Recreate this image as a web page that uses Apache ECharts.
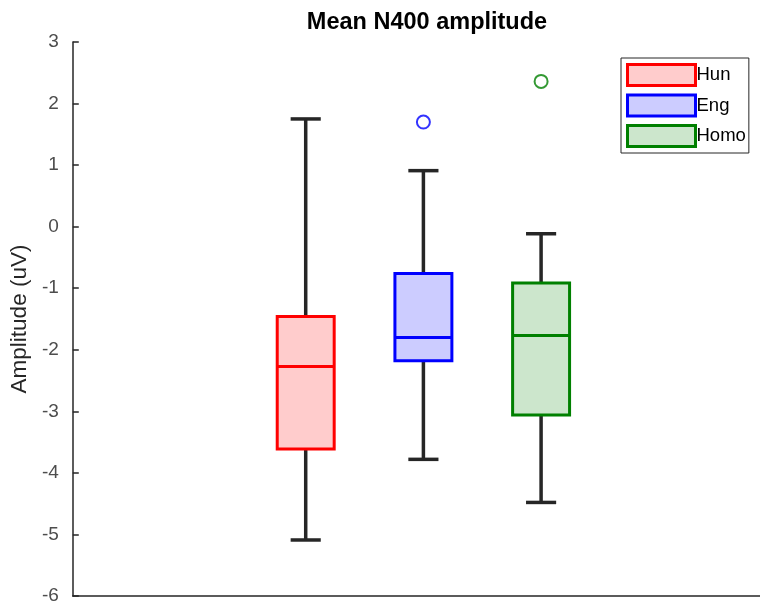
<!DOCTYPE html>
<html>
<head>
<meta charset="utf-8">
<script src="https://cdn.jsdelivr.net/npm/echarts@6/dist/echarts.min.js"></script>
<style>html,body{margin:0;padding:0;background:#fff}#c{width:760px;height:607px}</style>
</head>
<body>
<div id="c"></div>
<script>
const categories = ['Hun', 'Eng', 'Homo'];
const lowerWhisker = [-5.09, -3.78, -4.48];
const q1 = [-3.61, -2.18, -3.06];
const median = [-2.27, -1.80, -1.77];
const q3 = [-1.46, -0.76, -0.915];
const upperWhisker = [1.75, 0.91, -0.115];
const outliers = [[2, 1.70], [3, 2.36]]; // [group position, value]
const yTicks = [-6, -5, -4, -3, -2, -1, 0, 1, 2, 3];

const strokeColors = ['#ff0000', '#0000ff', '#008000'];
const fillColors = ['#ffcccc', '#ccccff', '#cce6cc'];
const dark = '#262626';
const FONT = 'Liberation Sans, Arial, sans-serif';

function renderBox(params, api) {
  const x = api.value(0);
  const pLow = api.coord([x, api.value(1)]);
  const pQ1 = api.coord([x, api.value(2)]);
  const pMed = api.coord([x, api.value(3)]);
  const pQ3 = api.coord([x, api.value(4)]);
  const pHigh = api.coord([x, api.value(5)]);
  const unit = api.size([1, 0])[0];
  const hw = unit * 0.242, cw = unit * 0.128;
  const cx = pMed[0];
  const s = api.style();
  const ws = { stroke: dark, lineWidth: 3.5 };
  return {
    type: 'group',
    children: [
      { type: 'line', shape: { x1: cx, y1: pHigh[1], x2: cx, y2: pQ3[1] }, style: ws },
      { type: 'line', shape: { x1: cx, y1: pQ1[1], x2: cx, y2: pLow[1] }, style: ws },
      { type: 'line', shape: { x1: cx - cw, y1: pHigh[1], x2: cx + cw, y2: pHigh[1] }, style: ws },
      { type: 'line', shape: { x1: cx - cw, y1: pLow[1], x2: cx + cw, y2: pLow[1] }, style: ws },
      { type: 'rect', shape: { x: cx - hw, y: pQ3[1], width: 2 * hw, height: pQ1[1] - pQ3[1] },
        style: { fill: s.fill, stroke: s.stroke, lineWidth: 3 } },
      { type: 'line', shape: { x1: cx - hw, y1: pMed[1], x2: cx + hw, y2: pMed[1] },
        style: { stroke: s.stroke, lineWidth: 3 } }
    ]
  };
}

const boxSeries = categories.map((name, i) => ({
  name: name,
  type: 'custom',
  renderItem: renderBox,
  encode: { x: 0, y: [1, 2, 3, 4, 5] },
  itemStyle: { color: fillColors[i], borderColor: strokeColors[i], borderWidth: 3 },
  data: [[i + 1, lowerWhisker[i], q1[i], median[i], q3[i], upperWhisker[i]]],
  z: 2
}));

const chart = echarts.init(document.getElementById('c'), null, { renderer: 'canvas' });
chart.setOption({
  animation: false,
  backgroundColor: '#fff',
  title: {
    text: 'Mean N400 amplitude',
    left: 422, top: 6, textAlign: 'center',
    textStyle: { fontFamily: FONT, fontSize: 23.5, fontWeight: 'bold', color: '#000' }
  },
  grid: { left: 72, right: 0, top: 42, bottom: 11, containLabel: false },
  xAxis: {
    type: 'value', min: -0.979, max: 4.86,
    axisLine: { show: true, onZero: false, lineStyle: { color: dark, width: 1.5 } },
    axisTick: { show: false }, axisLabel: { show: false }, splitLine: { show: false }
  },
  yAxis: {
    type: 'value', min: yTicks[0], max: yTicks[yTicks.length - 1], interval: 1,
    name: 'Amplitude (uV)', nameLocation: 'middle', nameGap: 35,
    nameTextStyle: { fontFamily: FONT, fontSize: 22.5, color: dark },
    axisLine: { show: true, onZero: false, lineStyle: { color: dark, width: 1.5 } },
    axisTick: { show: true, inside: true, length: 6, lineStyle: { color: dark, width: 1.5 } },
    axisLabel: { fontFamily: FONT, fontSize: 19, color: '#4d4d4d', margin: 14 },
    splitLine: { show: false }
  },
  legend: {
    orient: 'vertical', left: 621, top: 58,
    icon: 'rect', itemWidth: 68, itemHeight: 21, itemGap: 6.5,
    padding: [5, 3, 5, 5],
    borderColor: dark, borderWidth: 1, backgroundColor: '#fff',
    textStyle: { fontFamily: FONT, fontSize: 18.5, color: '#000', padding: [0, 0, 0, -4] },
    data: categories.map((name, i) => ({
      name: name,
      itemStyle: { color: fillColors[i], borderColor: strokeColors[i], borderWidth: 3 }
    }))
  },
  series: boxSeries.concat([{
    type: 'scatter',
    name: 'outliers',
    symbol: 'circle', symbolSize: 13,
    data: outliers.map(o => ({
      value: o,
      itemStyle: { color: 'transparent', borderColor: strokeColors[o[0] - 1], borderWidth: 2 }
    })),
    z: 3
  }])
});
</script>
</body>
</html>
